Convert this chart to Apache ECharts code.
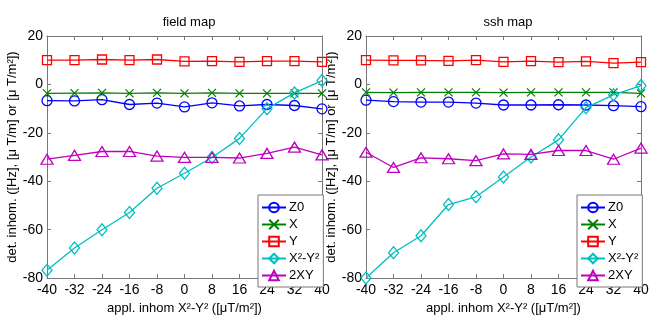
<!DOCTYPE html>
<html><head><meta charset="utf-8">
<script src="https://cdn.jsdelivr.net/npm/echarts@6/dist/echarts.min.js"></script>
<style>html,body{margin:0;padding:0;background:#fff}#c{width:659px;height:320px}</style>
</head><body><div id="c"></div>
<script>
const xTicks = [-40, -32, -24, -16, -8, 0, 8, 16, 24, 32, 40];
const seriesNames = ['Z0', 'X', 'Y', 'X²-Y²', '2XY'];
const panelTitles = ['field map', 'ssh map'];
const fieldZ0   = [-6.7, -6.8, -6.3, -8.3, -7.7, -9.3, -7.6, -8.9, -8.3, -8.7, -10.1];
const fieldX    = [-3.7, -3.6, -3.5, -3.7, -3.5, -3.7, -3.5, -3.7, -3.7, -3.7, -3.7];
const fieldY    = [10, 10, 10.3, 10, 10.3, 9.5, 9.6, 9.3, 9.6, 9.6, 9.3];
const fieldX2Y2 = [-76.8, -67.6, -60, -52.9, -42.9, -36.7, -30.2, -22.3, -10, -3.5, 1.6];
const field2XY  = [-30.9, -29.3, -27.7, -27.7, -29.6, -30.1, -30.1, -30.4, -28.5, -25.9, -29.1];
const sshZ0     = [-6.5, -7.1, -7.3, -7.3, -7.7, -8.5, -8.5, -8.4, -8.5, -8.8, -9.2];
const sshX      = [-3.3, -3.4, -3.3, -3.3, -3.3, -3.4, -3.3, -3.3, -3.3, -3.3, -3.7];
const sshY      = [10, 9.9, 9.9, 9.7, 10, 9.3, 9.6, 9.2, 9.5, 8.8, 9.2];
const sshX2Y2   = [-80, -69.5, -62.5, -49.6, -46.4, -38.2, -30, -22.9, -9.6, -4.3, -0.5];
const ssh2XY    = [-28, -34.3, -30.3, -30.7, -31.5, -28.7, -28.9, -27.3, -27.3, -30.9, -26.3];

const panels = [
  [fieldZ0, fieldX, fieldY, fieldX2Y2, field2XY],
  [sshZ0, sshX, sshY, sshX2Y2, ssh2XY]
];
const colors = ['#0000ff', '#008000', '#ff0000', '#00bfbf', '#bf00bf'];
const symbols = ['circle', 'path://M0,0L10,10M10,0L0,10', 'rect', 'diamond', 'triangle'];
const sizes = [10, 8, 9, [10, 12], [12, 10]];
const font = 'Liberation Sans, Arial, Helvetica, sans-serif';
const axisColor = '#777';

const grids = [
  {left: 47, right: 337, top: 36, bottom: 34},
  {left: 366, right: 18, top: 36, bottom: 34}
];
const xAxes = [], yAxes = [], series = [], legends = [], titles = [];
grids.forEach((g, gi) => {
  const baseX = {gridIndex: gi, type: 'value', min: -40, max: 40, interval: 8,
    axisLine: {onZero: false, lineStyle: {color: axisColor, width: 1}}, splitLine: {show: false},
    axisTick: {inside: true, length: 4, lineStyle: {color: axisColor}}};
  xAxes.push(Object.assign({}, baseX, {position: 'bottom',
    axisLabel: {color: '#000', fontSize: 14, fontFamily: font, margin: 5},
    name: 'appl. inhom X²-Y² ([μT/m²])', nameLocation: 'middle', nameGap: 21,
    nameTextStyle: {color: '#000', fontSize: 13, fontFamily: font}}));
  xAxes.push(Object.assign({}, baseX, {position: 'top', axisLabel: {show: false}}));
  const baseY = {gridIndex: gi, type: 'value', min: -80, max: 20, interval: 20,
    axisLine: {show: true, onZero: false, lineStyle: {color: axisColor, width: 1}}, splitLine: {show: false},
    axisTick: {show: true, inside: true, length: 4, lineStyle: {color: axisColor}}};
  yAxes.push(Object.assign({}, baseY, {position: 'left',
    axisLabel: {color: '#000', fontSize: 14, fontFamily: font, margin: 4},
    name: 'det. inhom. ([Hz], [μ T/m] or [μ T/m²])', nameLocation: 'middle', nameGap: 26,
    nameTextStyle: {color: '#000', fontSize: 13, fontFamily: font}}));
  yAxes.push(Object.assign({}, baseY, {position: 'right', axisLabel: {show: false}}));
  panels[gi].forEach((vals, si) => {
    series.push({
      name: seriesNames[si], type: 'line', xAxisIndex: gi * 2, yAxisIndex: gi * 2,
      data: xTicks.map((x, i) => [x, vals[i]]),
      symbol: symbols[si], symbolSize: sizes[si], showSymbol: true,
      lineStyle: {color: colors[si], width: 1.3},
      itemStyle: {color: 'rgba(0,0,0,0)', borderColor: colors[si], borderWidth: 1.3},
      emphasis: {disabled: true}, z: 2 + si
    });
  });
  legends.push({
    orient: 'vertical', left: gi === 0 ? 258 : 577, top: 195,
    data: seriesNames, itemWidth: 24, itemHeight: 12, itemGap: 4,
    padding: [6, 4, 5, 3], backgroundColor: '#fff', borderColor: axisColor, borderWidth: 1,
    textStyle: {color: '#000', fontSize: 13, fontFamily: font, padding: [0, 0, 0, -2]},
    selectedMode: false, inactiveColor: '#000'
  });
  titles.push({text: panelTitles[gi], left: gi === 0 ? 184 : 503, top: 11, textAlign: 'center',
    textStyle: {color: '#000', fontSize: 13, fontWeight: 'normal', fontFamily: font}});
});

const chart = echarts.init(document.getElementById('c'), null, {renderer: 'canvas'});
chart.setOption({
  animation: false, backgroundColor: '#fff',
  title: titles, grid: grids, xAxis: xAxes, yAxis: yAxes, legend: legends, series: series
});
</script></body></html>
